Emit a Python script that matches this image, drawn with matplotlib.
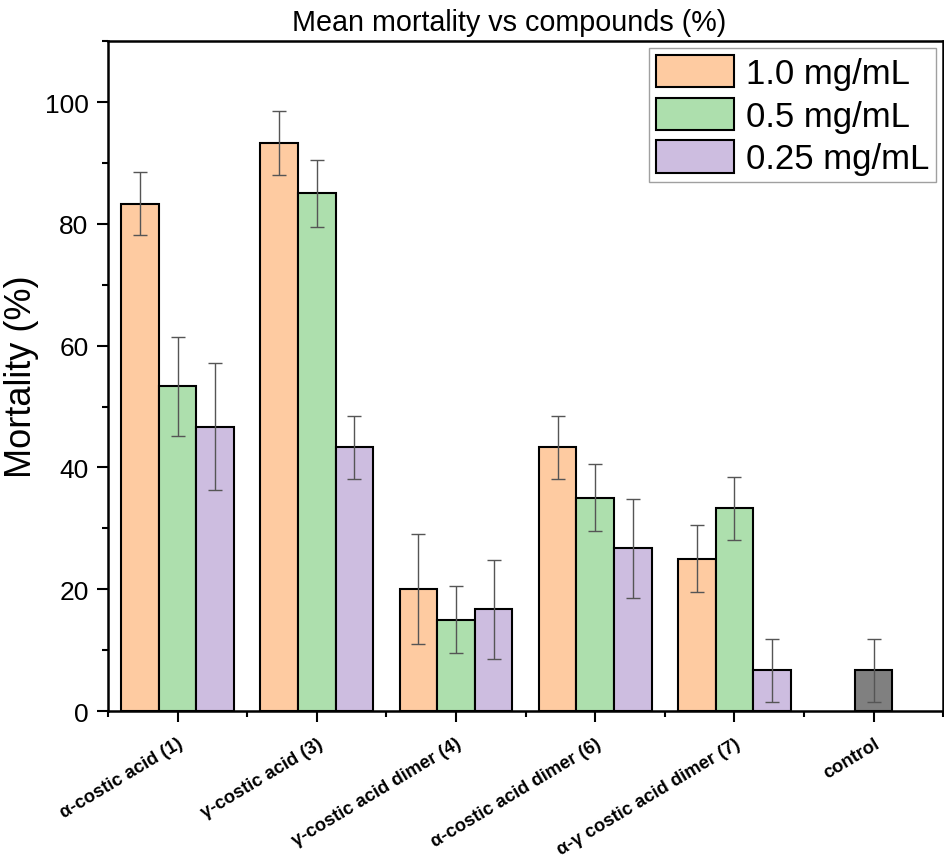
import numpy as np
import matplotlib
matplotlib.use("Agg")
import matplotlib.pyplot as plt
from matplotlib.ticker import MultipleLocator, FixedLocator

plt.rcParams['font.family'] = ['Liberation Sans', 'DejaVu Sans']

categories = ["α-costic acid (1)", "γ-costic acid (3)", "γ-costic acid dimer (4)",
              "α-costic acid dimer (6)", "α-γ costic acid dimer (7)", "control"]
series_names = ["1.0 mg/mL", "0.5 mg/mL", "0.25 mg/mL"]
vals_10 = [83.3, 93.3, 20.0, 43.3, 25.0]
err_10 = [5.2, 5.2, 9.0, 5.2, 5.5]
vals_05 = [53.3, 85.0, 15.0, 35.0, 33.3]
err_05 = [8.2, 5.5, 5.5, 5.5, 5.2]
vals_025 = [46.7, 43.3, 16.7, 26.7, 6.7]
err_025 = [10.4, 5.2, 8.1, 8.1, 5.2]
control_val = [6.7]
control_err = [5.2]

colors = ['#FECBA1', '#ADDFAD', '#CDBDE0']
control_color = '#808080'

xfam = ['Liberation Sans', 'DejaVu Sans']
xsize = 13.2

fig = plt.figure(figsize=(9.45, 8.62), dpi=100)
ax = fig.add_axes([0.1143, 0.174, 0.8837, 0.777])

w = 0.27
x = np.arange(len(categories) - 1)
series = [(vals_10, err_10), (vals_05, err_05), (vals_025, err_025)]
ekw = dict(ecolor='#555555', elinewidth=1.0, capsize=5, capthick=1.0)
for i, ((v, e), c, name) in enumerate(zip(series, colors, series_names)):
    ax.bar(x + (i - 1) * w, v, w, yerr=e, color=c, edgecolor='black',
           linewidth=1.5, label=name, error_kw=ekw, zorder=2)
ax.bar([len(categories) - 1], control_val, w, yerr=control_err, color=control_color,
       edgecolor='black', linewidth=1.5, error_kw=ekw, zorder=2)

ax.set_xlim(-0.5, len(categories) - 0.5)
ax.set_ylim(0, 110)
ax.yaxis.set_major_locator(MultipleLocator(20))
ax.yaxis.set_minor_locator(MultipleLocator(10))
ax.set_yticks([0, 20, 40, 60, 80, 100])
ax.set_xticks(np.arange(len(categories)))
ax.xaxis.set_minor_locator(FixedLocator(np.arange(len(categories) + 1) - 0.5))
ax.set_xticklabels(categories, rotation=31, ha='right', rotation_mode='anchor',
                   fontsize=xsize, fontweight='bold', family=xfam)
ax.tick_params(axis='y', which='major', labelsize=19, length=8, width=1.5,
               direction='out', pad=6)
ax.tick_params(axis='y', which='minor', length=4, width=1.5, direction='out')
ax.tick_params(axis='x', which='major', length=8, width=1.5, direction='out', pad=9)
ax.tick_params(axis='x', which='minor', length=4, width=1.5, direction='out')
for s in ax.spines.values():
    s.set_linewidth(1.8)

ax.set_ylabel("Mortality (%)", fontsize=26, labelpad=4)
ax.set_title("Mean mortality vs compounds (%)", fontsize=20.7, pad=8, x=0.48)

leg = ax.legend(loc='upper right', fontsize=25, handlelength=2.25, handleheight=1.05,
                labelspacing=0.22, handletextpad=0.35, borderpad=0.2,
                borderaxespad=0.2, fancybox=False, frameon=True)
leg.get_frame().set_edgecolor('#888888')
leg.get_frame().set_linewidth(1.0)

fig.savefig("out.png", dpi=100)
